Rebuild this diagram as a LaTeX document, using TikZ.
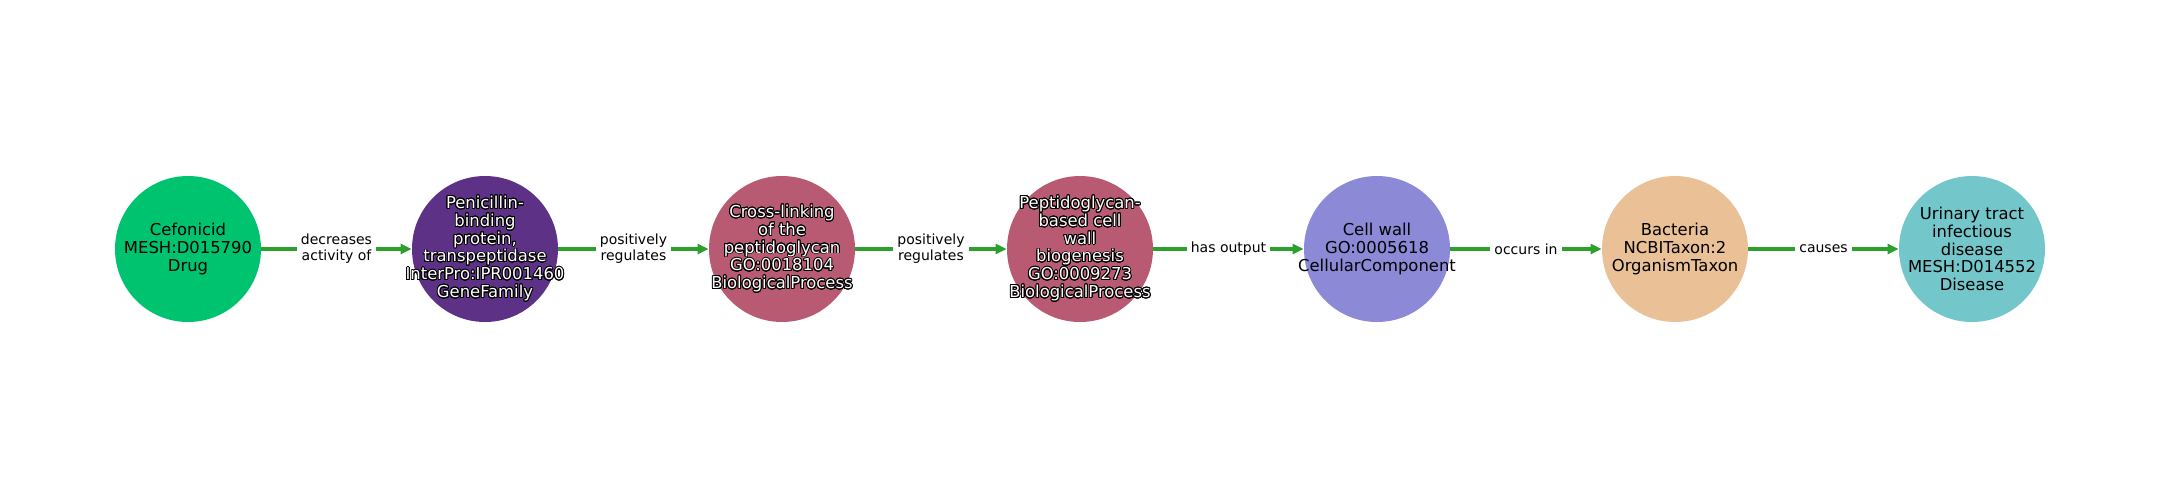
\documentclass[tikz,border=0pt]{standalone}
\usepackage{fontspec}
\setmainfont{DejaVu Sans}
\usepackage[copies]{contour}
\contourlength{0.45pt}
\contournumber{24}
\usetikzlibrary{arrows.meta}
\definecolor{cgreen}{HTML}{00C36F}
\definecolor{cpurple}{HTML}{5C3186}
\definecolor{crose}{HTML}{B85A71}
\definecolor{clav}{HTML}{8C89D6}
\definecolor{cpeach}{HTML}{EAC097}
\definecolor{cteal}{HTML}{73C6CA}
\definecolor{cedge}{HTML}{2CA02C}
\newcommand{\wl}[1]{\contour{black}{#1}}
\tikzset{
  ent/.style={circle, minimum size=73pt, inner sep=0pt, draw=none},
  ntext/.style={align=center, inner sep=0pt, font=\fontsize{8.2}{8.9}\selectfont, text=black},
  wtext/.style={ntext, text=white},
  edge/.style={draw=cedge, line width=2pt, -{Triangle[length=5.5pt,width=5pt]}},
  lbl/.style={fill=white, align=center, inner sep=2pt, font=\fontsize{7}{8}\selectfont, text=black}
}
\begin{document}
\begin{tikzpicture}[x=0.5pt,y=-0.5pt]
\useasboundingbox (0,0) rectangle (2160,500);
\node[ent, fill=cgreen]  (n1) at (188,249) {};
\node[ent, fill=cpurple] (n2) at (485,249) {};
\node[ent, fill=crose]   (n3) at (782,249) {};
\node[ent, fill=crose]   (n4) at (1080,249) {};
\node[ent, fill=clav]    (n5) at (1377,249) {};
\node[ent, fill=cpeach]  (n6) at (1675,249) {};
\node[ent, fill=cteal]   (n7) at (1972,249) {};

\node[ntext] (t1) at (n1.center) {Cefonicid\\MESH:D015790\\Drug};
\node[wtext] (t2) at (n2.center) {\wl{Penicillin-}\\\wl{binding}\\\wl{protein,}\\\wl{transpeptidase}\\\wl{InterPro:IPR001460}\\\wl{GeneFamily}};
\node[wtext] (t3) at (n3.center) {\wl{Cross-linking}\\\wl{of the}\\\wl{peptidoglycan}\\\wl{GO:0018104}\\\wl{BiologicalProcess}};
\node[wtext] (t4) at (n4.center) {\wl{Peptidoglycan-}\\\wl{based cell}\\\wl{wall}\\\wl{biogenesis}\\\wl{GO:0009273}\\\wl{BiologicalProcess}};
\node[ntext] (t5) at (n5.center) {Cell wall\\GO:0005618\\CellularComponent};
\node[ntext] (t6) at (n6.center) {Bacteria\\NCBITaxon:2\\OrganismTaxon};
\node[ntext] (t7) at (n7.center) {Urinary tract\\infectious\\disease\\MESH:D014552\\Disease};

\draw[edge] (n1) -- node[lbl] (e1) {decreases\\activity of} (n2);
\draw[edge] (n2) -- node[lbl] (e2) {positively\\regulates} (n3);
\draw[edge] (n3) -- node[lbl] (e3) {positively\\regulates} (n4);
\draw[edge] (n4) -- node[lbl] (e4) {has output} (n5);
\draw[edge] (n5) -- node[lbl] (e5) {occurs in} (n6);
\draw[edge] (n6) -- node[lbl] (e6) {causes} (n7);
\end{tikzpicture}
\end{document}
